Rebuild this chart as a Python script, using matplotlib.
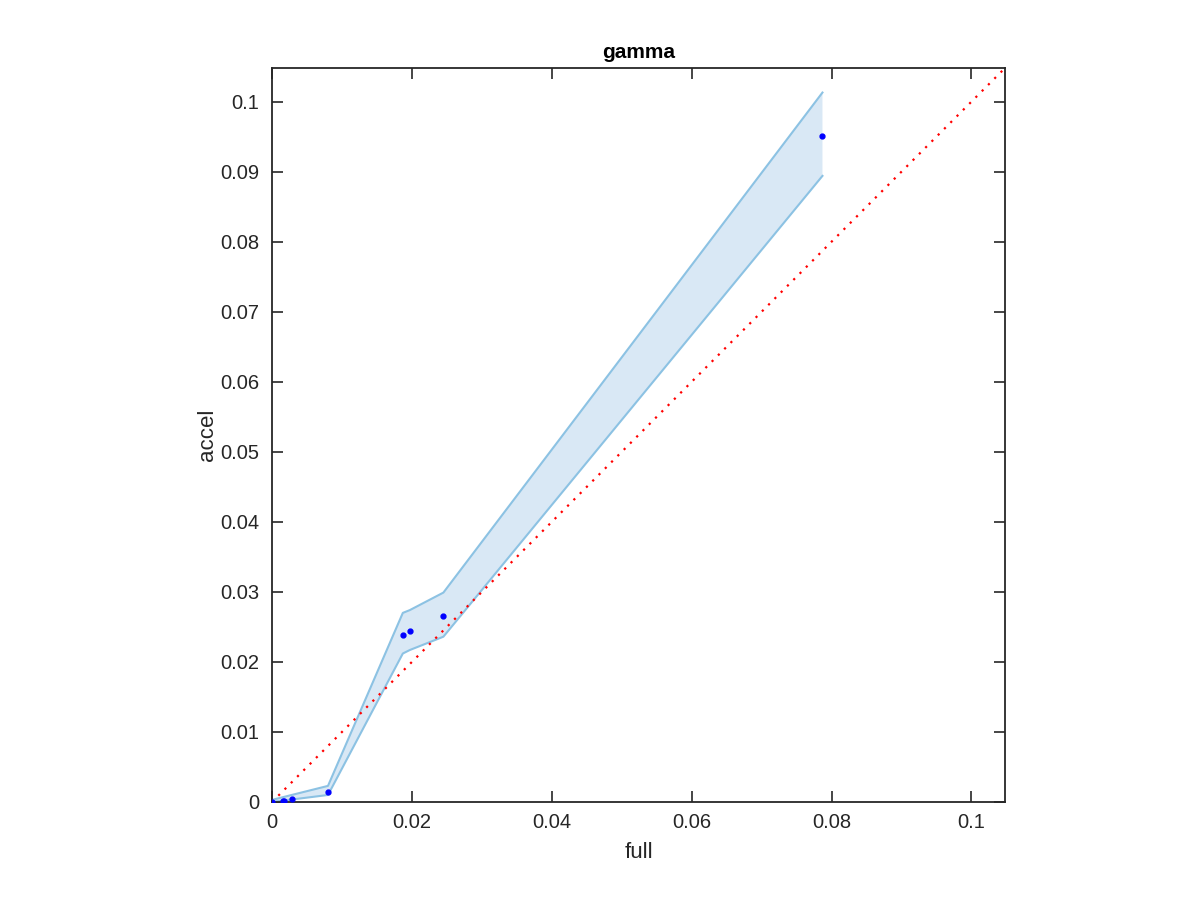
import matplotlib
matplotlib.use("Agg")
import matplotlib.pyplot as plt
import numpy as np

plt.rcParams['font.family'] = ['Liberation Sans', 'DejaVu Sans']

# data points
full_x = [0.0, 0.0015, 0.0017, 0.0029, 0.0080, 0.0187, 0.0197, 0.0245, 0.0787]
accel_y = [0.0, 0.0002, 0.0002, 0.0004, 0.0014, 0.0239, 0.0244, 0.0266, 0.0951]

# confidence band
band_x = [0.0, 0.0080, 0.0187, 0.0197, 0.0245, 0.0787]
band_upper = [0.0003, 0.0023, 0.0270, 0.0274, 0.0299, 0.1013]
band_lower = [0.0000, 0.0010, 0.0212, 0.0217, 0.0236, 0.0894]

lim = 0.1048

fig = plt.figure(figsize=(12, 9), dpi=100)
ax = fig.add_axes([0.2267, 0.1089, 0.8375 - 0.2267, 0.9244 - 0.1089])

ax.fill_between(band_x, band_lower, band_upper, facecolor=(0.85, 0.91, 0.96),
                edgecolor='none', zorder=1)
ax.plot(band_x, band_upper, color=(0.55, 0.76, 0.89), lw=1.5, zorder=2)
ax.plot(band_x, band_lower, color=(0.55, 0.76, 0.89), lw=1.5, zorder=2)
ax.plot([0, lim], [0, lim], color='red', ls=(0, (1, 3)), lw=1.6, zorder=3)
ax.plot(full_x, accel_y, ls='none', marker='o', ms=3.5, color='blue', zorder=4)

ax.set_xlim(0, lim)
ax.set_ylim(0, lim)
xt = [0, 0.02, 0.04, 0.06, 0.08, 0.1]
yt = [0, 0.01, 0.02, 0.03, 0.04, 0.05, 0.06, 0.07, 0.08, 0.09, 0.1]
ax.set_xticks(xt)
ax.set_xticklabels(['0', '0.02', '0.04', '0.06', '0.08', '0.1'])
ax.set_yticks(yt)
ax.set_yticklabels(['0', '0.01', '0.02', '0.03', '0.04', '0.05', '0.06', '0.07', '0.08', '0.09', '0.1'])
ax.tick_params(direction='in', top=True, right=True, length=8, width=1.2,
               labelsize=14.5, colors='#262626')
ax.tick_params(axis='y', pad=9)
ax.tick_params(axis='x', pad=8)
for s in ax.spines.values():
    s.set_linewidth(1.3)
    s.set_color('#262626')

ax.set_xlabel('full', fontsize=16, color='#262626', labelpad=7)
ax.set_ylabel('accel', fontsize=16, color='#262626', labelpad=2)
ax.set_title('gamma', fontsize=15, fontweight='bold', pad=7)

fig.savefig('out.png', dpi=100)
